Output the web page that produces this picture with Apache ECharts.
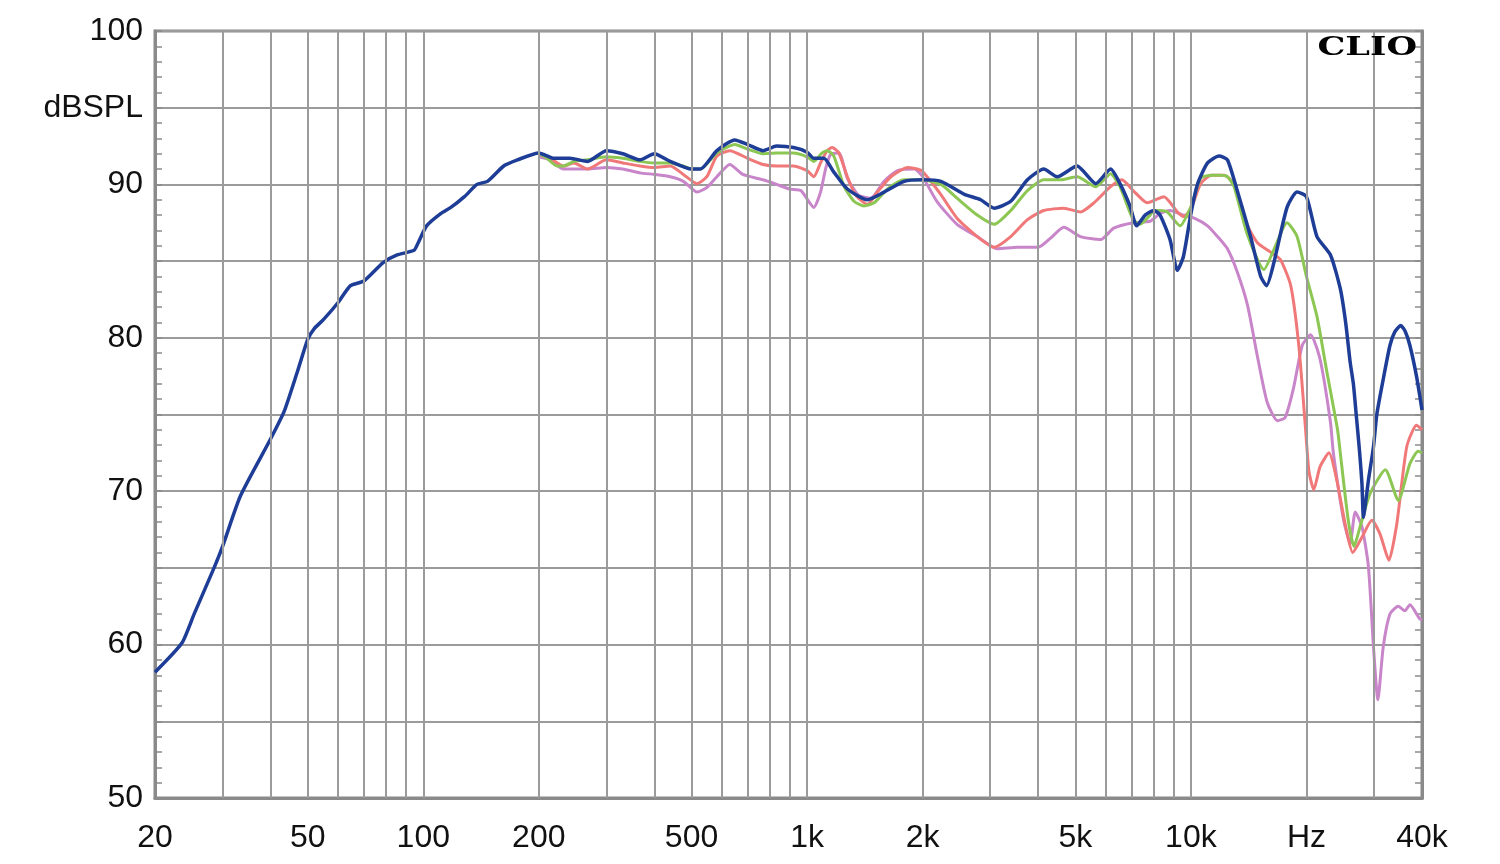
<!DOCTYPE html>
<html>
<head>
<meta charset="utf-8">
<title>CLIO frequency response</title>
<script src="https://cdn.jsdelivr.net/npm/echarts@6/dist/echarts.min.js"></script>
<style>
  html, body { margin: 0; padding: 0; background: #fff; }
  #chart { width: 1500px; height: 864px; }
</style>
</head>
<body>
<div id="chart"></div>
<script>
// axis labels
const xTickValues = [20, 50, 100, 200, 500, 1000, 2000, 5000, 10000, 20000, 40000]
const xTickLabels = ['20', '50', '100', '200', '500', '1k', '2k', '5k', '10k', 'Hz', '40k']
const xGridValues = [30, 40, 50, 60, 70, 80, 90, 100, 200, 300, 400, 500, 600, 700, 800, 900,
  1000, 2000, 3000, 4000, 5000, 6000, 7000, 8000, 9000, 10000, 20000, 30000]
const yUnitLabel = 'dBSPL'

// blue trace (full range)
const blueFreq = [20, 23.5, 25.3, 28.5, 30, 33.4, 40, 43.4, 47, 50, 52, 55, 60, 64.6, 70, 78.6, 85.5, 94.6, 97,
  102, 111, 118, 128, 138, 147, 162, 176, 200, 219, 241, 268, 300, 331, 367, 400, 440, 500, 527, 582, 648,
  700, 768, 833, 922, 1000, 1041, 1106, 1174, 1273, 1436, 1587, 1790, 2000, 2232, 2571, 2833, 3072, 3393,
  3750, 4136, 4481, 5051, 5651, 6177, 6533, 6935, 7222, 7600, 8000, 8312, 8822, 9220, 9560, 10000, 10400,
  11050, 11840, 12450, 13200, 14300, 15200, 15750, 16450, 17800, 18900, 20000, 21300, 23100, 24500, 25300,
  26000, 26500, 27000, 27500, 27900, 28150, 28600, 29000, 29900, 30500, 31700, 33000, 34000, 35200, 36200,
  37200, 38700, 40000]
const blueDb = [58.2, 60.1, 62.0, 65.0, 66.4, 69.7, 73.4, 75.2, 77.8, 79.9, 80.6, 81.2, 82.3, 83.4, 83.7, 84.9,
  85.4, 85.7, 86.2, 87.3, 88.1, 88.5, 89.2, 90.0, 90.2, 91.2, 91.6, 92.05, 91.7, 91.7, 91.5, 92.2, 92.0, 91.6,
  92.0, 91.5, 91.0, 91.0, 92.2, 92.9, 92.6, 92.2, 92.5, 92.4, 92.1, 91.7, 91.7, 90.8, 89.7, 89.0, 89.5, 90.2,
  90.3, 90.2, 89.35, 89.0, 88.45, 88.9, 90.3, 91.0, 90.5, 91.2, 90.05, 91.0, 90.05, 88.6, 87.3, 88.0, 88.3,
  88.0, 86.4, 84.4, 85.3, 88.1, 90.0, 91.4, 91.85, 91.6, 89.6, 86.6, 84.0, 83.4, 84.9, 88.5, 89.5, 89.2, 86.6,
  85.4, 83.2, 81.0, 78.4, 77.0, 74.8, 72.6, 70.5, 68.3, 69.5, 70.7, 72.9, 75.0, 77.3, 79.5, 80.4, 80.8, 80.4,
  79.5, 77.5, 75.3]

// green trace
const greenFreq = [200, 210, 223, 232, 247, 268, 300, 331, 367, 400, 440, 476, 500, 527, 582, 648, 700, 768,
  833, 922, 1000, 1041, 1094, 1128, 1174, 1247, 1325, 1407, 1495, 1620, 1790, 2000, 2232, 2458, 2775, 3072,
  3393, 3750, 4136, 4573, 5051, 5651, 6177, 6533, 7072, 7370, 7826, 8000, 8312, 8680, 9369, 10000, 10600,
  11270, 11970, 12450, 12960, 14000, 15500, 16450, 17800, 18900, 20000, 21300, 22600, 24100, 24500, 25700,
  26600, 27600, 29300, 32100, 34700, 37200, 39100, 40000]
const greenDb = [92.05, 91.7, 91.2, 91.2, 91.5, 91.6, 91.8, 91.7, 91.5, 91.4, 91.4, 91.2, 91.0, 91.0, 92.05,
  92.6, 92.3, 92.0, 92.05, 92.05, 91.8, 91.5, 92.05, 92.2, 91.85, 89.9, 88.9, 88.6, 88.8, 89.7, 90.3, 90.3,
  90.0, 89.1, 88.0, 87.4, 88.3, 89.6, 90.3, 90.3, 90.5, 89.85, 90.7, 89.85, 87.7, 87.4, 88.0, 88.3, 88.3, 88.2,
  87.3, 88.55, 90.4, 90.6, 90.6, 90.5, 89.85, 86.8, 84.45, 85.75, 87.5, 86.6, 84.0, 81.4, 77.8, 74.0, 72.5,
  68.1, 66.4, 67.7, 69.85, 71.4, 69.4, 71.8, 72.6, 72.5]

// red trace
const redFreq = [200, 214, 232, 247, 268, 300, 331, 367, 400, 440, 476, 517, 548, 582, 629, 700, 768, 833, 922,
  1000, 1041, 1084, 1128, 1162, 1210, 1273, 1338, 1436, 1525, 1653, 1828, 1986, 2222, 2458, 2775, 3072, 3393,
  3750, 4136, 4664, 5155, 5590, 6177, 6610, 7072, 7700, 8505, 9220, 9560, 10000, 10600, 11300, 12200, 12960,
  14050, 14900, 16100, 17100, 18200, 19100, 19900, 20300, 20900, 21700, 22900, 24000, 25300, 26400, 27900,
  29600, 31100, 32800, 34400, 36500, 38700, 40000]
const redDb = [92.05, 91.7, 91.2, 91.4, 91.0, 91.6, 91.4, 91.2, 91.1, 91.2, 90.65, 90.05, 90.5, 91.85, 92.2,
  91.7, 91.3, 91.2, 91.2, 90.9, 90.5, 91.4, 92.2, 92.4, 92.05, 90.5, 89.3, 88.7, 89.5, 90.5, 91.1, 90.9, 89.4,
  87.8, 86.6, 85.9, 86.6, 87.7, 88.3, 88.45, 88.2, 88.8, 89.85, 90.3, 89.6, 88.8, 89.2, 88.2, 87.9, 88.4,
  90.05, 90.6, 90.6, 90.0, 87.3, 86.2, 85.6, 85.1, 83.4, 79.5, 74.0, 71.3, 70.1, 71.6, 72.5, 70.7, 67.7, 66.0,
  67.0, 68.1, 67.2, 65.5, 67.9, 72.9, 74.3, 74.0]

// violet trace
const violetFreq = [200, 214, 232, 268, 300, 331, 367, 400, 440, 476, 517, 548, 582, 629, 680, 768, 833, 900,
  963, 1041, 1084, 1117, 1151, 1210, 1273, 1360, 1465, 1587, 1720, 1905, 2000, 2178, 2458, 2775, 3130, 3538,
  4000, 4309, 4664, 5155, 5820, 6293, 7072, 7826, 8312, 8822, 9560, 10200, 11050, 11730, 12450, 13200, 14050,
  14900, 15800, 16800, 17600, 18500, 19500, 20500, 21700, 23100, 23500, 25000, 26000, 26800, 27900, 29000,
  29900, 30700, 31700, 33000, 34700, 36100, 37200, 39400, 40000]
const violetDb = [91.8, 91.6, 91.0, 91.0, 91.1, 91.0, 90.75, 90.65, 90.5, 90.2, 89.5, 89.8, 90.5, 91.3, 90.65,
  90.3, 90.0, 89.7, 89.6, 88.5, 89.5, 91.0, 91.95, 92.05, 90.4, 89.3, 89.1, 90.2, 90.9, 91.0, 90.5, 88.9, 87.4,
  86.6, 85.8, 85.9, 85.9, 86.5, 87.2, 86.6, 86.4, 87.15, 87.5, 87.6, 88.1, 88.3, 88.0, 87.8, 87.3, 86.6, 85.8,
  84.3, 82.1, 78.8, 75.8, 74.6, 74.8, 76.7, 79.5, 80.2, 78.6, 74.5, 72.5, 68.1, 66.6, 68.65, 67.7, 65.1,
  59.85, 56.4, 59.85, 62.0, 62.5, 62.2, 62.6, 61.7, 61.6]

const zip = (f, d) => f.map((v, i) => [v, d[i]])

const chartDom = document.getElementById('chart')
const chart = echarts.init(chartDom)

const gridColor = '#9b9b9b'
const frameColor = '#8a8a8a'
const labelFont = 'Liberation Sans, Arial, sans-serif'

const lineSeries = (name, data, color, width) => ({
  name: name,
  type: 'line',
  data: data,
  showSymbol: false,
  smooth: 0.2,
  silent: true,
  lineStyle: { color: color, width: width },
  animation: false
})

const option = {
  animation: false,
  backgroundColor: '#fff',
  grid: {
    left: 155, right: 78, top: 31, bottom: 66,
    show: true, borderColor: frameColor, borderWidth: 3
  },
  xAxis: {
    type: 'log',
    logBase: 10,
    min: 20,
    max: 40000,
    axisLine: { show: true, lineStyle: { color: frameColor, width: 3 } },
    axisTick: { show: false },
    splitLine: { show: false },
    axisLabel: {
      customValues: xTickValues,
      showMinLabel: true,
      showMaxLabel: true,
      hideOverlap: false,
      margin: 24,
      color: '#111',
      fontSize: 32,
      fontFamily: labelFont,
      formatter: v => {
        const i = xTickValues.findIndex(t => Math.abs(t - v) / t < 1e-6)
        return i >= 0 ? xTickLabels[i] : ''
      }
    }
  },
  yAxis: [
    {
      type: 'value',
      min: 50,
      max: 100,
      interval: 5,
      axisLine: { show: true, lineStyle: { color: frameColor, width: 3 } },
      axisTick: { show: true, inside: true, length: 7, lineStyle: { color: frameColor, width: 1.5 } },
      minorTick: { show: true, splitNumber: 5, length: 7, lineStyle: { color: frameColor, width: 1.5 } },
      splitLine: { show: true, lineStyle: { color: gridColor, width: 2 } },
      axisLabel: {
        margin: 12,
        color: '#111',
        fontSize: 32,
        fontFamily: labelFont,
        formatter: v => (v % 10 === 0 ? String(v) : (v === 95 ? yUnitLabel : ''))
      }
    },
    {
      type: 'value',
      position: 'right',
      min: 50,
      max: 100,
      interval: 5,
      axisLine: { show: true, lineStyle: { color: frameColor, width: 3 } },
      axisTick: { show: true, inside: true, length: 7, lineStyle: { color: frameColor, width: 1.5 } },
      minorTick: { show: true, splitNumber: 5, length: 7, lineStyle: { color: frameColor, width: 1.5 } },
      splitLine: { show: false },
      axisLabel: { show: false }
    }
  ],
  graphic: [
    {
      type: 'text',
      x: 1417,
      y: 48,
      scaleX: 1.35,
      style: {
        text: 'CLIO',
        fill: '#000',
        font: 'bold 26px "DejaVu Serif", "Liberation Serif", serif',
        textAlign: 'right',
        textVerticalAlign: 'middle'
      },
      z: 100
    }
  ],
  series: [
    {
      type: 'line',
      data: [],
      silent: true,
      markLine: {
        silent: true,
        symbol: ['none', 'none'],
        label: { show: false },
        lineStyle: { color: gridColor, width: 2, type: 'solid' },
        data: xGridValues.map(v => ({ xAxis: v }))
      }
    },
    lineSeries('violet', zip(violetFreq, violetDb), '#c985c9', 3),
    lineSeries('red', zip(redFreq, redDb), '#f07878', 3),
    lineSeries('green', zip(greenFreq, greenDb), '#8cc653', 3),
    lineSeries('blue', zip(blueFreq, blueDb), '#1e3d96', 3.5)
  ]
}

option && chart.setOption(option)
</script>
</body>
</html>
